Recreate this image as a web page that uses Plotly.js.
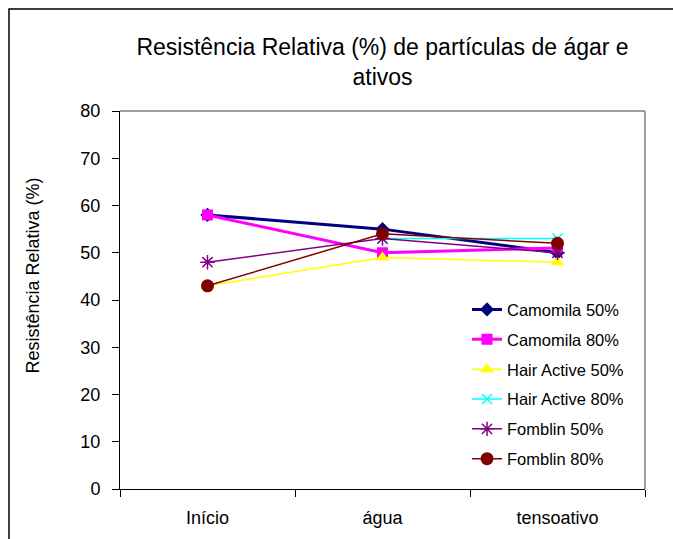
<!DOCTYPE html>
<html>
<head>
<meta charset="utf-8">
<script src="https://cdn.plot.ly/plotly-3.0.1.min.js"></script>
<style>html,body{margin:0;padding:0;background:#fff;}#chart{width:673px;height:539px;}</style>
</head>
<body>
<div id="chart"></div>
<script>
const categories = ["Início", "água", "tensoativo"];
const seriesNames = ["Camomila 50%", "Camomila 80%", "Hair Active 50%", "Hair Active 80%", "Fomblin 50%", "Fomblin 80%"];
const camomila50 = [58, 55, 50];
const camomila80 = [58, 50, 51];
const hairActive50 = [43, 49, 48];
const hairActive80 = [null, 53, 53];
const fomblin50 = [48, 53, 50];
const fomblin80 = [43, 54, 52];
const yTickVals = [0, 10, 20, 30, 40, 50, 60, 70, 80];

const values = [camomila50, camomila80, hairActive50, hairActive80, fomblin50, fomblin80];
const colors = ["#000080", "#FF00FF", "#FFFF00", "#00FFFF", "#800080", "#800000"];
const symbols = ["diamond", "square", "triangle-up", "x-thin-open", "asterisk-open", "circle"];
const lineWidths = [3, 3, 1.5, 1.5, 1.5, 1.5];
const markerSizes = [11, 11, 12, 10, 12, 13];

const traces = values.map((v, i) => ({
  x: categories,
  y: v,
  name: seriesNames[i],
  legendgroup: "g" + i,
  type: "scatter",
  mode: "lines+markers",
  connectgaps: false,
  line: {color: colors[i], width: lineWidths[i]},
  marker: {color: colors[i], symbol: symbols[i], size: markerSizes[i],
           line: {color: colors[i], width: (symbols[i].indexOf("open") >= 0) ? 1.5 : 0}}
}));

const layout = {
  width: 673, height: 539,
  margin: {l: 120, r: 28, t: 111, b: 50},
  paper_bgcolor: "#fff", plot_bgcolor: "#fff",
  font: {family: "Liberation Sans, Arial, sans-serif", color: "#000"},
  title: {
    text: "Resistência Relativa (%) de partículas de ágar e<br>ativos",
    font: {size: 23, color: "#000"},
    x: 0.5, xref: "paper", xanchor: "center",
    y: 1 - 55/539, yref: "container", yanchor: "top"
  },
  xaxis: {
    type: "category", range: [-0.5, 2.5],
    tickson: "boundaries", ticks: "outside", ticklen: 7, tickcolor: "#000",
    showline: true, linecolor: "#000", linewidth: 1,
    showgrid: false, zeroline: false,
    tickfont: {size: 18}, ticklabelstandoff: 12, fixedrange: true
  },
  yaxis: {
    range: [0, 80], tickvals: yTickVals, ticks: "outside", ticklen: 7, tickcolor: "#000",
    showline: true, linecolor: "#000", linewidth: 1,
    showgrid: false, zeroline: false,
    tickfont: {size: 18}, ticklabelstandoff: 8, fixedrange: true
  },
  legend: {
    x: 0.661, xanchor: "left", y: 0.5206, yanchor: "top",
    font: {size: 16.5}, bgcolor: "rgba(0,0,0,0)", tracegroupgap: 5.4
  },
  annotations: [{
    text: "Resistência Relativa (%)", textangle: -90,
    xref: "paper", yref: "paper", x: (32 - 120) / 525, y: (489 - 275.5) / 378,
    xanchor: "center", yanchor: "middle", showarrow: false,
    font: {size: 18, color: "#000"}
  }],
  shapes: [
    {type: "rect", xref: "paper", yref: "paper", x0: (9 - 120) / 525, x1: 1.2, y0: -0.3, y1: 1 + (111 - 9) / 378,
     line: {color: "#000", width: 1.5}, layer: "below"},
    {type: "line", xref: "paper", yref: "paper", x0: 0, x1: 1, y0: 1, y1: 1, line: {color: "#808080", width: 1.5}},
    {type: "line", xref: "paper", yref: "paper", x0: 1, x1: 1, y0: 0, y1: 1, line: {color: "#808080", width: 1.5}}
  ],
  showlegend: true
};

Plotly.newPlot("chart", traces, layout, {displayModeBar: false, staticPlot: true});
</script>
</body>
</html>
